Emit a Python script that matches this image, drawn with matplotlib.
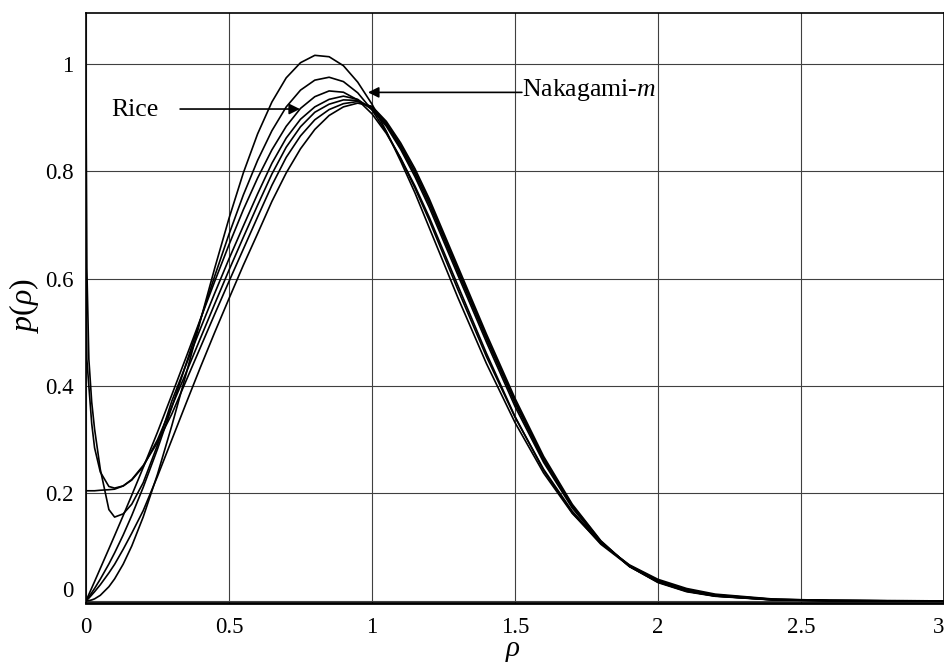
import matplotlib
matplotlib.use("Agg")
import matplotlib.pyplot as plt
import matplotlib.transforms as mtransforms

plt.rcParams['font.family'] = ['Liberation Serif', 'DejaVu Serif']
plt.rcParams['mathtext.fontset'] = 'custom'
plt.rcParams['mathtext.rm'] = 'Liberation Serif'
plt.rcParams['mathtext.it'] = 'Liberation Serif:italic'

# sample points on rho axis
rho = [0, 0.003, 0.01, 0.02, 0.03, 0.05, 0.08, 0.1, 0.13, 0.16, 0.2, 0.25, 0.3,
       0.35, 0.4, 0.45, 0.5, 0.55, 0.6, 0.65, 0.7, 0.75, 0.8, 0.85, 0.9, 0.95,
       1.0, 1.05, 1.1, 1.15, 1.2, 1.3, 1.4, 1.5, 1.6, 1.7, 1.8, 1.9, 2.0, 2.1,
       2.2, 2.4, 2.6, 2.8, 3.0]

# curve values
p_naka = [0, 0, 0.0004, 0.0017, 0.0037, 0.0103, 0.0263, 0.0409, 0.0683, 0.1021,
          0.1562, 0.2358, 0.3262, 0.4226, 0.522, 0.6196, 0.7124, 0.7969, 0.8697,
          0.9291, 0.9741, 1.0023, 1.016, 1.0134, 0.9967, 0.9661, 0.925, 0.8745,
          0.819, 0.76, 0.695, 0.565, 0.442, 0.332, 0.238, 0.163, 0.107,
          0.067, 0.04, 0.023, 0.0125, 0.0035, 0.0008, 0.0001, 0]
p_mid = [0, 0.0022, 0.0074, 0.0151, 0.0231, 0.0404, 0.0687, 0.0893, 0.1226, 0.1589,
         0.2114, 0.2828, 0.3606, 0.4413, 0.5236, 0.6048, 0.6829, 0.7558, 0.8204,
         0.8756, 0.9199, 0.9512, 0.9698, 0.9752, 0.9671, 0.9462, 0.9142, 0.873,
         0.824, 0.769, 0.709, 0.58, 0.455, 0.342, 0.245, 0.167, 0.108,
         0.066, 0.038, 0.021, 0.011, 0.003, 0.0007, 0.0001, 0]
p_rice = [0, 0.0036, 0.012, 0.024, 0.036, 0.0604, 0.0969, 0.1215, 0.1588, 0.1968,
          0.2482, 0.3142, 0.3836, 0.4537, 0.5246, 0.595, 0.6633, 0.7284, 0.7875,
          0.84, 0.8838, 0.9172, 0.939, 0.9497, 0.9473, 0.9329, 0.907, 0.8706,
          0.8247, 0.7727, 0.7146, 0.5875, 0.461, 0.3432, 0.243, 0.1641, 0.1054,
          0.0645, 0.0376, 0.0209, 0.011, 0.0027, 0.0006, 0.0001, 0]
p_s1 = [0.95, 0.62, 0.45, 0.37, 0.32, 0.245, 0.17, 0.156, 0.162, 0.18,
        0.22, 0.29, 0.372, 0.44, 0.507, 0.573, 0.637, 0.698, 0.758,
        0.815, 0.862, 0.897, 0.92, 0.934, 0.94, 0.934, 0.915, 0.884,
        0.841, 0.79, 0.733, 0.607, 0.482, 0.362, 0.258, 0.173, 0.109,
        0.065, 0.036, 0.019, 0.0095, 0.002, 0.0004, 0.0001, 0]
p_s2 = [0.6, 0.45, 0.4, 0.33, 0.285, 0.24, 0.213, 0.21, 0.214, 0.225,
        0.25, 0.3, 0.362, 0.425, 0.489, 0.553, 0.616, 0.677, 0.737,
        0.795, 0.845, 0.883, 0.91, 0.925, 0.933, 0.932, 0.917, 0.887,
        0.845, 0.795, 0.739, 0.613, 0.488, 0.368, 0.262, 0.176, 0.11,
        0.064, 0.035, 0.018, 0.009, 0.002, 0.0004, 0.0001, 0]
p_s3 = [0.205, 0.205, 0.205, 0.205, 0.205, 0.206, 0.207, 0.208, 0.214, 0.226,
        0.252, 0.295, 0.348, 0.41, 0.472, 0.534, 0.595, 0.655, 0.715,
        0.774, 0.826, 0.866, 0.896, 0.915, 0.926, 0.93, 0.92, 0.89,
        0.849, 0.8, 0.744, 0.618, 0.492, 0.372, 0.265, 0.178, 0.111,
        0.064, 0.035, 0.018, 0.009, 0.002, 0.0004, 0.0001, 0]
p_low = [0, 0.0015, 0.005, 0.011, 0.017, 0.03, 0.052, 0.068, 0.096, 0.126,
         0.168, 0.232, 0.3, 0.368, 0.435, 0.5, 0.563, 0.625, 0.684,
         0.744, 0.797, 0.842, 0.878, 0.904, 0.92, 0.927, 0.921, 0.893,
         0.853, 0.805, 0.749, 0.623, 0.497, 0.377, 0.269, 0.18, 0.112,
         0.064, 0.034, 0.017, 0.0085, 0.0018, 0.0004, 0.0001, 0]

curves = [p_naka, p_mid, p_rice, p_s1, p_s2, p_s3, p_low]

xticks = [0, 0.5, 1, 1.5, 2, 2.5, 3]
xtick_labels = ['0', '0.5', '1', '1.5', '2', '2.5', '3']
yticks = [0, 0.2, 0.4, 0.6, 0.8, 1]
ytick_labels = ['0', '0.2', '0.4', '0.6', '0.8', '1']

fig = plt.figure(figsize=(9.45, 6.66), dpi=100)
ax = fig.add_axes([0.091, 0.0946, 0.908, 0.886])

for c in curves:
    ax.plot(rho, c, color='black', lw=1.2, solid_joinstyle='round')

ax.set_xlim(0, 3)
ax.set_ylim(-0.004, 1.095)
ax.set_xticks(xticks)
ax.set_xticklabels(xtick_labels)
ax.set_yticks(yticks)
ax.set_yticklabels(ytick_labels)
ax.tick_params(length=0, labelsize=16.5)
ax.tick_params(axis='x', pad=10)
ax.tick_params(axis='y', pad=9)
ax.grid(True, color='0.25', lw=0.8)
for s in ax.spines.values():
    s.set_linewidth(1.2)
ax.spines['bottom'].set_linewidth(2)

# the "0" on the y axis sits a little higher, the "3" is pushed to the edge
t0 = ax.yaxis.get_major_ticks()[0]
t0.label1.set_transform(t0.label1.get_transform() +
                        mtransforms.ScaledTranslation(0, 0.12, fig.dpi_scale_trans))
ax.xaxis.get_major_ticks()[-1].label1.set_horizontalalignment('right')

ax.set_xlabel(r'$\rho$', fontsize=21)
ax.set_ylabel(r'$p(\rho)$', fontsize=23)
ax.xaxis.set_label_coords(0.498, -0.06)
ax.yaxis.set_label_coords(-0.053, 0.505)

ax.annotate('', xy=(0.748, 0.916), xytext=(0.329, 0.916),
            arrowprops=dict(arrowstyle='-|>', color='black', lw=1.2,
                            mutation_scale=16, shrinkA=0, shrinkB=0))
ax.text(0.171, 0.914, 'Rice', fontsize=18.5, ha='center', va='center')
ax.annotate('', xy=(0.986, 0.947), xytext=(1.524, 0.947),
            arrowprops=dict(arrowstyle='-|>', color='black', lw=1.2,
                            mutation_scale=16, shrinkA=0, shrinkB=0))
ax.text(1.526, 0.952, 'Nakagami-$m$', fontsize=18.5, ha='left', va='center')

fig.savefig('out.png', dpi=100)
